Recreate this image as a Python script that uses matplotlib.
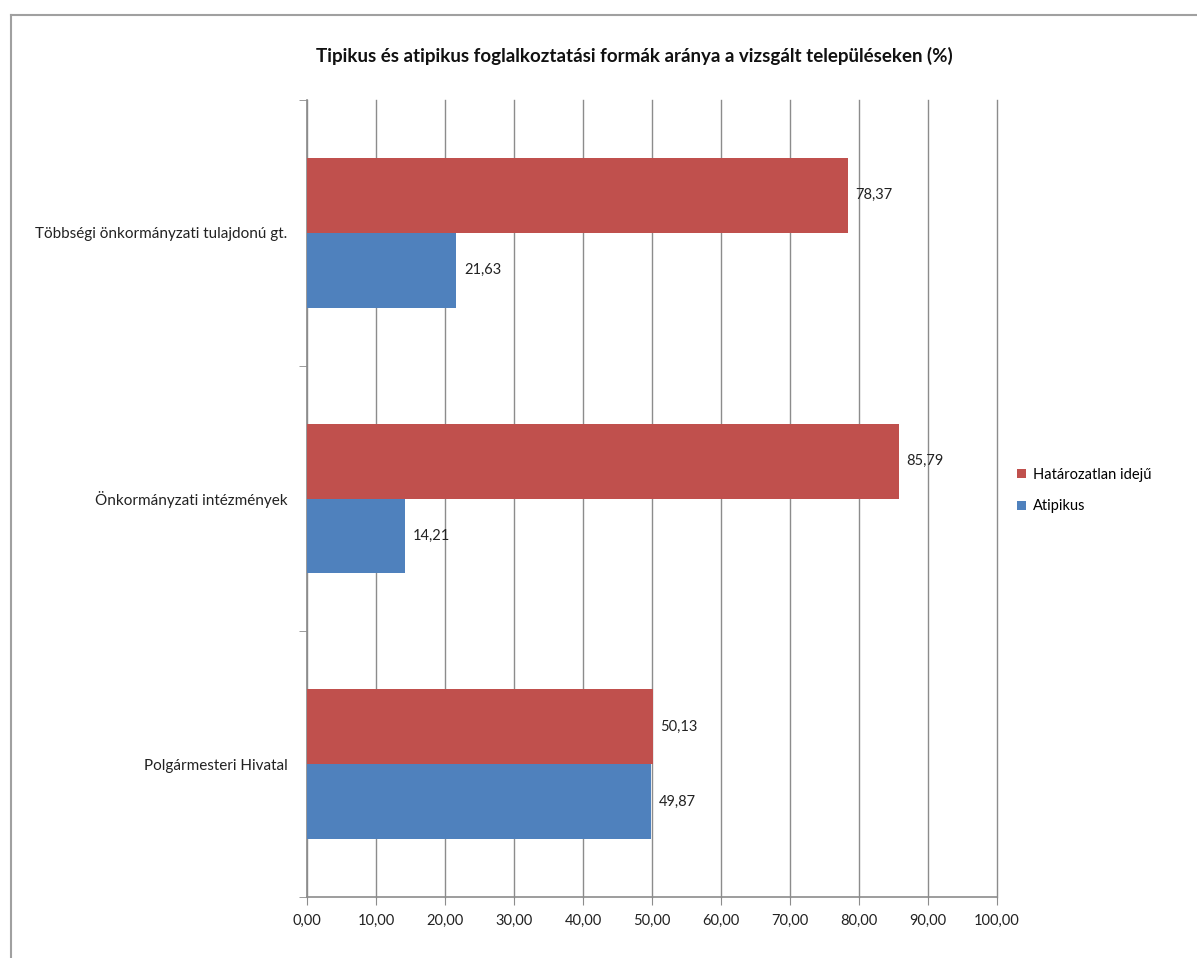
import matplotlib
matplotlib.use("Agg")
import matplotlib.pyplot as plt
from matplotlib.lines import Line2D
import numpy as np

plt.rcParams['font.family'] = ['Lato', 'DejaVu Sans']

# data (bottom to top)
categories = ['Polgármesteri Hivatal', 'Önkormányzati intézmények',
              'Többségi önkormányzati tulajdonú gt.']
hatarozatlan = [50.13, 85.79, 78.37]
atipikus = [49.87, 14.21, 21.63]
xticks = [0, 10, 20, 30, 40, 50, 60, 70, 80, 90, 100]

red = '#C0504D'
blue = '#4F81BD'
grid = '#8C8C8C'

fig = plt.figure(figsize=(11.97, 9.58), dpi=100)

# outer chart frame (top and left edges visible)
fig.add_artist(Line2D([11/1197, 1], [1 - 15/958] * 2, color='#A0A0A0', lw=1.5))
fig.add_artist(Line2D([11/1197] * 2, [0, 1 - 15/958], color='#A0A0A0', lw=1.5))

ax = fig.add_axes([307/1197, 1 - 897/958, (997 - 307)/1197, (897 - 100)/958])

y = np.arange(len(categories))
h = 0.282
ax.barh(y + h/2, hatarozatlan, height=h, color=red, label='Határozatlan idejű', zorder=3)
ax.barh(y - h/2, atipikus, height=h, color=blue, label='Atipikus', zorder=3)

for yi, v in zip(y, hatarozatlan):
    ax.text(v + 1.1, yi + h/2, f'{v:.2f}'.replace('.', ','), va='center', ha='left',
            fontsize=10.5, color='#222222')
for yi, v in zip(y, atipikus):
    ax.text(v + 1.1, yi - h/2, f'{v:.2f}'.replace('.', ','), va='center', ha='left',
            fontsize=10.5, color='#222222')

ax.set_xlim(0, 100)
ax.set_ylim(-0.5, 2.5)
ax.set_xticks(xticks)
ax.set_xticklabels([f'{t:.2f}'.replace('.', ',') for t in xticks], fontsize=10.5, color='#222222')
ax.set_yticks(y)
ax.set_yticklabels(categories, fontsize=11, color='#222222')
ax.tick_params(axis='y', length=0, pad=14)
ax.set_yticks([-0.5, 0.5, 1.5, 2.5], minor=True)
ax.tick_params(axis='y', which='minor', length=6, color=grid, direction='out')
ax.tick_params(axis='x', length=6, color=grid, direction='out', pad=6)

ax.grid(axis='x', color=grid, lw=1, zorder=0)
for gl in ax.get_xgridlines():
    gl.set_clip_on(False)
for s in ['top', 'right']:
    ax.spines[s].set_visible(False)
for s in ['left', 'bottom']:
    ax.spines[s].set_color(grid)
    ax.spines[s].set_linewidth(1.2)

fig.text(634/1197, 1 - 56/958,
         'Tipikus és atipikus foglalkoztatási formák aránya a vizsgált településeken (%)',
         ha='center', va='center', fontsize=13.5, fontweight='bold', color='#111111')

ax.legend(loc='center left', bbox_to_anchor=(1.01, 0.51), frameon=False, fontsize=10.5,
          handlelength=0.6, handleheight=0.6, labelspacing=1.2, handletextpad=0.5)

fig.savefig('out.png', dpi=100, facecolor='white')
